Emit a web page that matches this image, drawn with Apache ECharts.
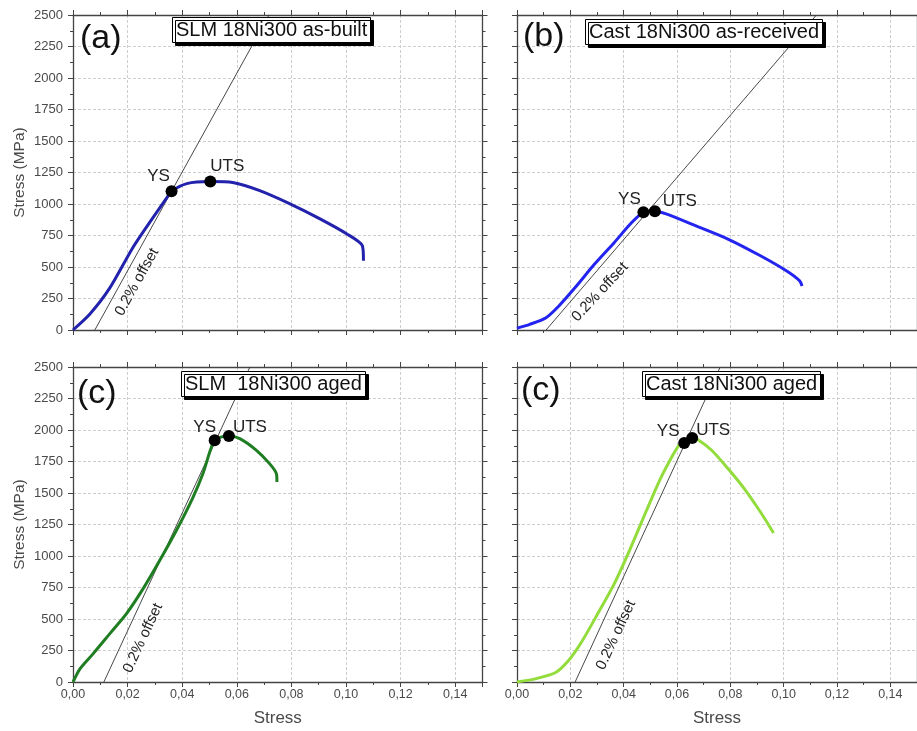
<!DOCTYPE html>
<html>
<head>
<meta charset="utf-8">
<script src="https://cdn.jsdelivr.net/npm/echarts@6/dist/echarts.min.js"></script>
<style>html,body{margin:0;padding:0;background:#fff}#c{width:917px;height:731px}</style>
</head>
<body>
<div id="c"></div>
<script>
// ---- data ----
const xTicks = [0, 0.02, 0.04, 0.06, 0.08, 0.10, 0.12, 0.14];
const yTicks = [0, 250, 500, 750, 1000, 1250, 1500, 1750, 2000, 2250, 2500];

const panelTitles = ["SLM 18Ni300 as-built", "Cast 18Ni300 as-received", "SLM  18Ni300 aged", "Cast 18Ni300 aged"];
const panelLetters = ["(a)", "(b)", "(c)", "(c)"];

const strainA = [0, 0.0062, 0.0135, 0.0219, 0.0293, 0.0344, 0.0361, 0.0417, 0.0503, 0.0585, 0.0684, 0.0793, 0.0903, 0.1002, 0.1060, 0.1064];
const stressA = [0, 127, 334, 653, 892, 1051, 1101, 1162, 1178, 1170, 1106, 1003, 884, 764, 669, 549];

const strainB = [0, 0.0048, 0.0109, 0.0157, 0.0218, 0.0291, 0.0365, 0.0425, 0.0474, 0.0517, 0.0559, 0.0669, 0.0791, 0.0913, 0.1010, 0.1060, 0.1069];
const stressB = [15, 45, 98, 191, 337, 523, 695, 841, 934, 942, 921, 828, 722, 589, 470, 390, 350];

const strainC = [0, 0.0026, 0.0074, 0.0135, 0.0196, 0.0257, 0.0318, 0.0379, 0.0440, 0.0476, 0.0503, 0.0519, 0.0544, 0.0571, 0.0611, 0.0672, 0.0720, 0.0745, 0.0747];
const stressC = [0, 106, 225, 384, 543, 741, 966, 1204, 1468, 1654, 1839, 1918, 1945, 1953, 1932, 1839, 1733, 1654, 1587];

const strainD = [0, 0.0072, 0.0145, 0.0194, 0.0242, 0.0303, 0.0365, 0.0425, 0.0486, 0.0535, 0.0584, 0.0608, 0.0627, 0.0657, 0.0681, 0.0730, 0.0791, 0.0852, 0.0913, 0.0962];
const stressD = [0, 27, 75, 172, 317, 543, 781, 1059, 1363, 1601, 1799, 1879, 1897, 1937, 1918, 1839, 1694, 1535, 1349, 1183];

// 0.2% offset lines (end points)
const offsetStrainA = [0.0080, 0.0718], offsetStressA = [0, 2500];
const offsetStrainB = [0.0109, 0.1123], offsetStressB = [0, 2500];
const offsetStrainC = [0.0113, 0.0648], offsetStressC = [0, 2500];
const offsetStrainD = [0.0218, 0.0762], offsetStressD = [0, 2500];

// YS / UTS points
const ysA = [0.0361, 1101], utsA = [0.0503, 1178];
const ysB = [0.0474, 934],  utsB = [0.0517, 942];
const ysC = [0.0519, 1918], utsC = [0.0571, 1953];
const ysD = [0.0627, 1897], utsD = [0.0657, 1937];

// ---- build chart ----
const FONT = "'Liberation Sans', Arial, sans-serif";
const zip = (a, b) => a.map((v, i) => [v, b[i]]);
const panels = [
  {curve: zip(strainA, stressA), off: zip(offsetStrainA, offsetStressA), ys: ysA, uts: utsA, color: '#2222ad',
   grid: {left: 73, top: 15, right: 434.5, bottom: 401}, xl: false, yl: true,
   box: {left: 172, top: 17}, letter: {left: 80, top: 21},
   ysOff: [-13, -15], utsOff: [17, -15], offTxt: {x: 137, y: 282, r: 61}},
  {curve: zip(strainB, stressB), off: zip(offsetStrainB, offsetStressB), ys: ysB, uts: utsB, color: '#2424f0',
   grid: {left: 517, top: 15, right: -10, bottom: 401}, xl: false, yl: false,
   box: {left: 585, top: 19}, letter: {left: 523, top: 19},
   ysOff: [-14, -13], utsOff: [25, -10], offTxt: {x: 600, y: 292, r: 47}},
  {curve: zip(strainC, stressC), off: zip(offsetStrainC, offsetStressC), ys: ysC, uts: utsC, color: '#1f7d22',
   grid: {left: 73, top: 367, right: 434.5, bottom: 49}, xl: true, yl: true,
   box: {left: 181, top: 371}, letter: {left: 77, top: 376},
   ysOff: [-10, -13], utsOff: [21, -9], offTxt: {x: 143, y: 638, r: 65}},
  {curve: zip(strainD, stressD), off: zip(offsetStrainD, offsetStressD), ys: ysD, uts: utsD, color: '#92dc3c',
   grid: {left: 517, top: 367, right: -10, bottom: 49}, xl: true, yl: false,
   box: {left: 642, top: 371}, letter: {left: 521, top: 373},
   ysOff: [-16, -12], utsOff: [21, -8], offTxt: {x: 616, y: 635, r: 65}}
];

const axisLineStyle = {color: '#444', width: 1.3};
const grids = [], xAxes = [], yAxes = [], series = [], titles = [], graphics = [];

panels.forEach((p, i) => {
  grids.push(Object.assign({containLabel: false}, p.grid));
  const xBase = {
    type: 'value', gridIndex: i, min: xTicks[0], max: 0.15, interval: xTicks[1] - xTicks[0],
    axisLine: {show: true, onZero: false, lineStyle: axisLineStyle},
    axisTick: {show: true, inside: false, length: 5, lineStyle: {color: '#444'}},
    minorTick: {show: true, splitNumber: 2, length: 3, lineStyle: {color: '#444'}}
  };
  xAxes.push(Object.assign({}, xBase, {
    position: 'bottom',
    splitLine: {show: true, lineStyle: {color: '#cdcdcd', type: [3, 2], width: 1}},
    axisLabel: {show: p.xl, showMaxLabel: false, margin: 6, color: '#4a4a4a', fontSize: 12.5, fontFamily: FONT,
      formatter: v => v.toFixed(2).replace('.', ',')},
    name: p.xl ? 'Stress' : '', nameLocation: 'middle', nameGap: 28,
    nameTextStyle: {color: '#4a4a4a', fontSize: 17, fontFamily: FONT}
  }));
  xAxes.push(Object.assign({}, xBase, {position: 'top', splitLine: {show: false}, axisLabel: {show: false}}));
  const yBase = {
    type: 'value', gridIndex: i, min: yTicks[0], max: yTicks[yTicks.length - 1], interval: yTicks[1] - yTicks[0],
    axisLine: {show: true, onZero: false, lineStyle: axisLineStyle},
    axisTick: {show: true, inside: false, length: 5, lineStyle: {color: '#444'}},
    minorTick: {show: true, splitNumber: 2, length: 3, lineStyle: {color: '#444'}}
  };
  yAxes.push(Object.assign({}, yBase, {
    position: 'left',
    splitLine: {show: true, lineStyle: {color: '#cdcdcd', type: [3, 2], width: 1}},
    axisLabel: {show: p.yl, margin: 10, color: '#4a4a4a', fontSize: 13, fontFamily: FONT, formatter: v => String(v)},
    name: p.yl ? 'Stress (MPa)' : '', nameLocation: 'middle', nameGap: 45,
    nameTextStyle: {color: '#4a4a4a', fontSize: 15.5, fontFamily: FONT}
  }));
  yAxes.push(Object.assign({}, yBase, {position: 'right', splitLine: {show: false}, axisLabel: {show: false}}));

  const xi = i * 2, yi = i * 2;
  series.push({type: 'line', xAxisIndex: xi, yAxisIndex: yi, data: p.off, showSymbol: false, silent: true,
    lineStyle: {color: '#333', width: 0.9}, z: 2});
  series.push({type: 'line', xAxisIndex: xi, yAxisIndex: yi, data: p.curve, showSymbol: false, smooth: 0.25,
    lineStyle: {color: p.color, width: 3}, z: 3});
  series.push({type: 'scatter', xAxisIndex: xi, yAxisIndex: yi, symbolSize: 12, z: 4,
    itemStyle: {color: '#000', opacity: 1},
    data: [
      {value: p.ys, label: {show: true, formatter: 'YS', position: 'inside', offset: p.ysOff}},
      {value: p.uts, label: {show: true, formatter: 'UTS', position: 'inside', offset: p.utsOff}}
    ],
    label: {color: '#222', fontSize: 17, fontFamily: FONT}
  });

  titles.push({text: panelTitles[i], left: p.box.left, top: p.box.top, backgroundColor: '#fff',
    borderColor: '#000', borderWidth: 1, padding: [2, 4, 1, 4],
    shadowColor: '#000', shadowBlur: 0, shadowOffsetX: 3, shadowOffsetY: 3,
    textStyle: {fontSize: 20, fontWeight: 'normal', color: '#111', fontFamily: FONT, lineHeight: 23}});
  titles.push({text: panelLetters[i], left: p.letter.left, top: p.letter.top, padding: 0,
    textStyle: {fontSize: 34, fontWeight: 'normal', color: '#111', fontFamily: FONT, lineHeight: 36}});
  graphics.push({type: 'text', x: p.offTxt.x, y: p.offTxt.y, rotation: p.offTxt.r * Math.PI / 180, z: 10,
    style: {text: '0.2% offset', fill: '#222', font: '15px ' + FONT, textAlign: 'center', textVerticalAlign: 'middle'}});
});

const chart = echarts.init(document.getElementById('c'), null, {renderer: 'canvas'});
chart.setOption({
  backgroundColor: '#fff',
  animation: false,
  title: titles,
  grid: grids,
  xAxis: xAxes,
  yAxis: yAxes,
  series: series,
  graphic: graphics
});
</script>
</body>
</html>
